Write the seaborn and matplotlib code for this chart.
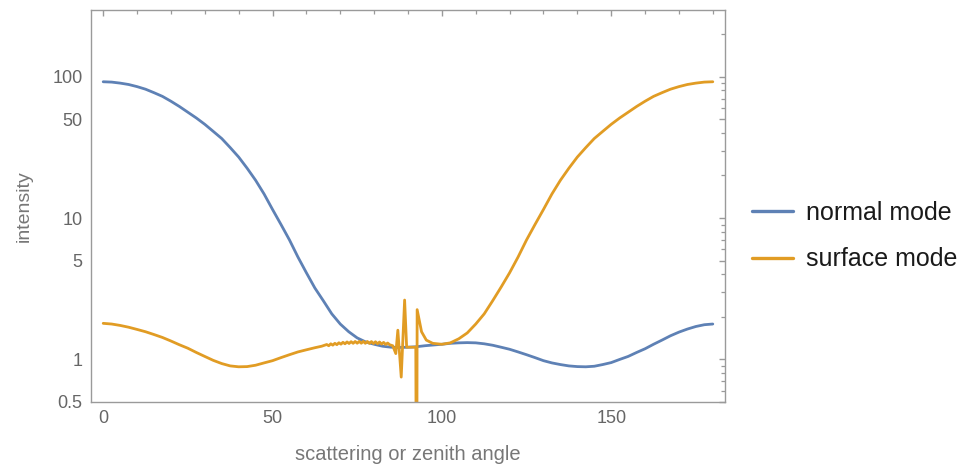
import matplotlib
matplotlib.use("Agg")
import matplotlib.pyplot as plt
import matplotlib.ticker as mticker
import numpy as np
import pandas as pd
import seaborn as sns

# ---------------- data ----------------
normal_angle = [0, 2.5, 5, 7.5, 10, 12.5, 15, 17.5, 20, 22.5, 25, 27.5, 30,
                32.5, 35, 37.5, 40, 42.5, 45, 47.5, 50, 52.5, 55, 57.5, 60,
                62.5, 65, 67.5, 70, 72.5, 75, 77.5, 80, 82.5, 85, 87.5, 90,
                92.5, 95, 97.5, 100, 102.5, 105, 107.5, 110, 112.5, 115,
                117.5, 120, 122.5, 125, 127.5, 130, 132.5, 135, 137.5, 140,
                142.5, 145, 147.5, 150, 152.5, 155, 157.5, 160, 162.5, 165,
                167.5, 170, 172.5, 175, 177.5, 180]
normal_intensity = [92, 91.5, 90, 88, 85, 81.5, 77, 72.5, 67, 61.5, 56, 51, 46,
                    41, 36.5, 31.5, 27, 22.5, 18.5, 14.8, 11.5, 9.0, 7.0, 5.3,
                    4.1, 3.2, 2.6, 2.1, 1.78, 1.57, 1.42, 1.33, 1.28, 1.24,
                    1.22, 1.215, 1.22, 1.23, 1.25, 1.265, 1.28, 1.30, 1.31,
                    1.315, 1.31, 1.29, 1.26, 1.22, 1.18, 1.13, 1.08, 1.03,
                    0.98, 0.945, 0.92, 0.90, 0.89, 0.887, 0.895, 0.92, 0.95,
                    1.0, 1.05, 1.12, 1.19, 1.28, 1.37, 1.47, 1.56, 1.64, 1.71,
                    1.76, 1.78]

surface_angle = [0, 2.5, 5, 7.5, 10, 12.5, 15, 17.5, 20, 22.5, 25, 27.5, 30,
                 32.5, 35, 37.5, 40, 42.5, 45, 47.5, 50, 52.5, 55, 57.5, 60,
                 62.5, 64.5,
                 66.0, 66.6, 67.2, 67.8, 68.4, 69.0, 69.6, 70.2, 70.8, 71.4,
                 72.0, 72.6, 73.2, 73.8, 74.4, 75.0, 75.6, 76.2, 76.8, 77.4,
                 78.0, 78.6, 79.2, 79.8, 80.4, 81.0, 81.6, 82.2, 82.8, 83.4,
                 84.0, 84.6,
                 85.5, 86.4, 87.0, 88.0, 89.0, 89.6, 92.3, 92.55, 92.7,
                 94.0, 95.4, 97.3, 100, 102.5, 105, 107.5, 110, 112.5, 115,
                 117.5, 120, 122.5, 125, 127.5, 130, 132.5, 135, 137.5, 140,
                 142.5, 145, 147.5, 150, 152.5, 155, 157.5, 160, 162.5, 165,
                 167.5, 170, 172.5, 175, 177.5, 180]
surface_intensity = [1.80, 1.78, 1.74, 1.69, 1.63, 1.57, 1.50, 1.43, 1.35,
                     1.27, 1.20, 1.12, 1.05, 0.985, 0.935, 0.90, 0.887, 0.89,
                     0.91, 0.945, 0.98, 1.03, 1.08, 1.13, 1.17, 1.21, 1.24,
                     1.275, 1.250, 1.290, 1.262, 1.300, 1.272, 1.312, 1.282,
                     1.322, 1.290, 1.330, 1.296, 1.336, 1.300, 1.340, 1.302,
                     1.342, 1.302, 1.342, 1.300, 1.340, 1.298, 1.338, 1.294,
                     1.334, 1.290, 1.328, 1.284, 1.320, 1.276, 1.306, 1.270,
                     1.25, 1.10, 1.61, 0.75, 2.63, 1.22, 1.22, 0.02, 2.25,
                     1.57, 1.37, 1.30, 1.28, 1.31, 1.40, 1.54, 1.78, 2.1, 2.6,
                     3.25, 4.1, 5.3, 7.0, 9.0, 11.5, 14.8, 18.5, 22.5, 27,
                     31.5, 36.5, 41, 46, 51, 56, 61.5, 67, 72.5, 77, 81.5, 85,
                     88, 90, 91.5, 92]

series_names = ["normal mode", "surface mode"]
series_colors = ["#5E81B5", "#E19C24"]

x_ticks = [0, 50, 100, 150]
y_ticks = [0.5, 1, 5, 10, 50, 100]
y_tick_labels = ["0.5", "1", "5", "10", "50", "100"]

x_label = "scattering or zenith angle"
y_label = "intensity"

# ---------------- build long table ----------------
df = pd.concat([
    pd.DataFrame({"angle": normal_angle, "intensity": normal_intensity,
                  "mode": series_names[0]}),
    pd.DataFrame({"angle": surface_angle, "intensity": surface_intensity,
                  "mode": series_names[1]}),
], ignore_index=True)

sns.set_style("white")
plt.rcParams["font.family"] = ["Liberation Sans", "DejaVu Sans"]

fig = plt.figure(figsize=(9.64, 4.66), dpi=100)
ax = fig.add_axes([91 / 964, 1 - 402 / 466, (725 - 91) / 964, (402 - 10) / 466])

sns.lineplot(data=df, x="angle", y="intensity", hue="mode",
             hue_order=series_names, palette=series_colors,
             estimator=None, sort=False, linewidth=2.0, ax=ax, legend=False)
for ln in ax.get_lines():
    ln.set_solid_joinstyle("round")
    ln.set_solid_capstyle("round")

ax.set_yscale("log")
ax.set_xlim(-3.6, 183.6)
ax.set_ylim(0.5, 296)

frame_col = "#9a9a9a"
text_col = "#666666"
for s in ax.spines.values():
    s.set_color(frame_col)
    s.set_linewidth(1.0)
    s.set_visible(True)

ax.xaxis.set_major_locator(mticker.FixedLocator(x_ticks))
ax.xaxis.set_minor_locator(mticker.MultipleLocator(10))
ax.yaxis.set_major_locator(mticker.FixedLocator(y_ticks))
ax.yaxis.set_major_formatter(mticker.FixedFormatter(y_tick_labels))
ax.yaxis.set_minor_locator(mticker.LogLocator(base=10, subs=np.arange(2, 10), numticks=20))
ax.yaxis.set_minor_formatter(mticker.NullFormatter())

ax.tick_params(which="both", direction="in", top=True, right=True,
               labeltop=False, labelright=False, color=frame_col,
               labelcolor=text_col, labelsize=13)
ax.tick_params(which="major", length=4.5, width=1.0, pad=6)
ax.tick_params(which="minor", length=2.8, width=0.9)

ax.set_xlabel(x_label, fontsize=14.5, color="#777777", labelpad=13)
ax.set_ylabel(y_label, fontsize=14, color="#777777", labelpad=14)

handles = [plt.Line2D([], [], color=c, linewidth=2.4) for c in series_colors]
fig.legend(handles, series_names, loc="center left",
           bbox_to_anchor=(752 / 964, 1 - 236 / 466), frameon=False,
           fontsize=18, handlelength=1.65, handletextpad=0.5,
           labelspacing=0.9, borderpad=0, borderaxespad=0,
           labelcolor="#1a1a1a")

fig.savefig("out.png", dpi=100)
